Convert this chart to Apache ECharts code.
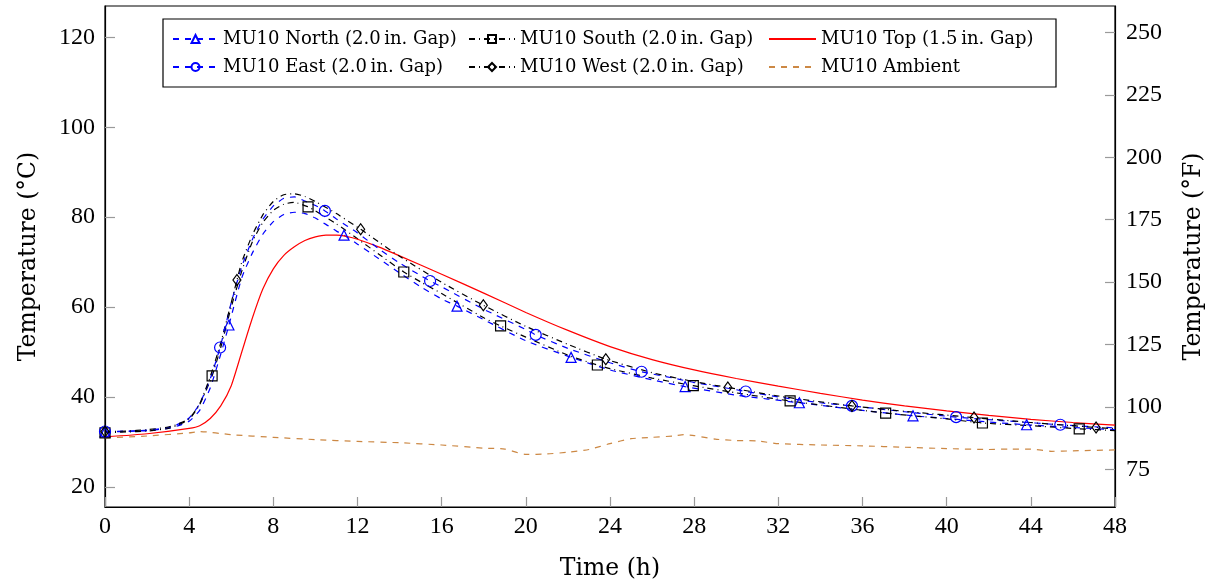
<!DOCTYPE html>
<html>
<head>
<meta charset="utf-8">
<script src="https://cdn.jsdelivr.net/npm/echarts@6/dist/echarts.min.js"></script>
<style>
html,body{margin:0;padding:0;background:#fff;}
#chart{width:1219px;height:586px;}
</style>
</head>
<body>
<div id="chart"></div>
<script>
// ---------- DATA ----------
const northT = [0,1,2,3,3.5,4,4.5,5,5.5,5.89,6.5,7,7.5,8,8.5,9,9.5,10,10.5,11,11.36,12,13,14,15,16,16.73,18,20,22.15,24,26,27.57,30,33,36,38.4,40,42,43.8,46,48];
const northC = [32.2,32.3,32.5,33.0,33.6,34.6,37,42,49.5,56,66.5,72,76.2,79,80.6,81.1,80.8,79.8,78.4,76.9,76,74,70.8,67.6,64.5,61.8,60.2,57.2,52.5,48.8,46,43.8,42.3,40.4,38.7,37.0,35.8,35.2,34.4,33.8,33.2,32.7];
const northMarks = [0,5.89,11.36,16.73,22.15,27.57,33,38.4,43.8];

const southT = [0,1,2,3,3.5,4,4.5,5.09,5.5,6,6.5,7,7.5,8,8.5,9,9.65,10,11,12,13,14.2,15,16,18,18.8,20,22,23.4,24,26,27.96,30,32.56,35,37.1,40,41.7,44,46.3,48];
const southC = [32,32.2,32.4,33,33.8,35,38.3,44.7,51,60,68,74.5,78.8,81.5,82.9,83.3,82.3,81.4,78.5,75.2,71.8,67.8,65.6,63,57.6,55.8,53.3,49.3,47.1,46.3,44.2,42.5,40.9,39.1,37.6,36.4,35.1,34.2,33.6,32.9,32.5];
const southMarks = [0,5.09,9.65,14.2,18.8,23.4,27.96,32.56,37.1,41.7,46.3];

const topT = [0,2,4,4.5,5,5.5,6,6.5,7,7.5,8,8.5,9,9.5,10,10.5,11,11.5,12,13,14,16,18,20,22,24,26,28,30,32,34,36,38,40,42,44,46,48];
const topC = [31.1,31.8,33.0,33.6,35.2,38,42.5,50,57.5,64,68.5,71.5,73.4,74.8,75.6,76,76,75.7,75.1,73.4,71.4,67.3,63.1,58.8,54.8,51.2,48.3,46,44.1,42.4,40.8,39.3,38,36.9,35.9,35,34.3,33.7];

const eastT = [0,1,2,3,3.5,4,4.5,5,5.47,6,6.5,7,7.5,8,8.5,9,9.5,10,10.45,11,12,13,14,15,15.45,16,18,20,20.47,22,24,25.5,27,28,30,30.45,32,34,35.5,38,40.45,43,45.4,48];
const eastC = [32.3,32.4,32.6,33.2,34,35.3,38.5,44,51,61,69,75,79.5,82.5,84.2,84.5,83.6,82.6,81.4,79.6,76.5,73,69.8,67,65.8,64.5,59.5,55,53.8,50.8,47.6,45.6,44.2,43.2,41.6,41.2,40,38.7,38,36.7,35.5,34.6,33.8,33.1];
const eastMarks = [0,5.47,10.45,15.45,20.47,25.5,30.45,35.5,40.45,45.4];

const westT = [0,1,2,3,3.5,4,4.5,5,5.5,6,6.27,6.5,7,7.5,8,8.5,9,9.5,10,11,12.15,13,14,16,17.98,20,22,23.8,26,28,29.6,32,35.5,38,41.3,44,47.1,48];
const westC = [32.3,32.4,32.7,33.3,34,35.2,38.5,44.5,52,61,66,70,76,80.5,83.5,85,85.2,84.6,83.5,80.8,77.3,74.5,71.3,65.5,60.4,55.7,51.7,48.4,45.4,43.4,42.1,40.2,38,36.8,35.4,34.3,33.2,32.9];
const westMarks = [0,6.27,12.15,17.98,23.8,29.6,35.5,41.3,47.1];

const ambT = [0,2,4,4.5,6,8,10,12,14,16,18,19,20,21,22,23,24,25,26,27,27.5,28,29,30,31,32,34,36,38,40,42,43,44,45,46,48];
const ambC = [30.9,31.3,32.0,32.3,31.6,31.0,30.5,30.1,29.8,29.3,28.6,28.4,27.2,27.3,27.7,28.3,29.6,30.7,31,31.3,31.6,31.4,30.6,30.3,30.2,29.6,29.3,29.1,28.8,28.5,28.3,28.4,28.4,27.9,28,28.2];

const seriesNames = [
  'MU10 North (2.0\u2009in. Gap)',
  'MU10 South (2.0\u2009in. Gap)',
  'MU10 Top (1.5\u2009in. Gap)',
  'MU10 East (2.0\u2009in. Gap)',
  'MU10 West (2.0\u2009in. Gap)',
  'MU10 Ambient'
];
const xTicks = [0,4,8,12,16,20,24,28,32,36,40,44,48];
const cTicks = [20,40,60,80,100,120];
const fTicks = [75,100,125,150,175,200,225,250];
const cMin = 15.5, cMax = 127;

// ---------- CHART ----------
const NUMFONT = "'Liberation Serif', 'Times New Roman', serif";
const TXTFONT = "'DejaVu Serif', serif";
function build(ts, vs, marks) {
  return ts.map((t, i) => {
    const item = { value: [t, vs[i]] };
    if (!marks || marks.indexOf(t) < 0) item.symbol = 'none';
    return item;
  });
}
const toF = c => c * 1.8 + 32;

function tickLabel(margin, custom) {
  const o = { margin: margin, fontFamily: NUMFONT, fontSize: 24, color: '#000' };
  if (custom) o.customValues = custom;
  return o;
}
function nameStyle() { return { fontFamily: TXTFONT, fontSize: 23.5, color: '#000' }; }
function tickStyle(custom) {
  const o = { inside: true, length: 10, lineStyle: { color: '#9a9a9a', width: 1.2 } };
  if (custom) o.customValues = custom;
  return o;
}

function lineSeries(name, data, color, dash, symbol, symbolSize) {
  const hasMark = symbol !== 'none';
  return {
    type: 'line', name: name, data: data,
    symbol: hasMark ? symbol : 'circle', symbolSize: symbolSize || 10,
    showSymbol: true, showAllSymbol: true,
    smooth: 0.2,
    lineStyle: { color: color, width: 1.2, type: dash },
    itemStyle: { color: 'rgba(0,0,0,0)', borderColor: hasMark ? color : 'rgba(0,0,0,0)', borderWidth: hasMark ? 1.2 : 0 },
    emphasis: { disabled: true },
    z: 2
  };
}

function legendText() { return { fontFamily: TXTFONT, fontSize: 18, color: '#000', lineHeight: 20 }; }
const option = {
  animation: false,
  backgroundColor: '#fff',
  textStyle: { fontFamily: NUMFONT },
  grid: { left: 105, right: 104, top: 6, bottom: 79, show: true, borderColor: '#000', borderWidth: 1.2, backgroundColor: 'rgba(0,0,0,0)' },
  xAxis: {
    type: 'value', min: 0, max: 48, interval: 4,
    axisLine: { show: true, lineStyle: { color: '#000', width: 1.2 } },
    axisTick: tickStyle(null),
    axisLabel: tickLabel(8, null),
    splitLine: { show: false },
    name: 'Time (h)', nameLocation: 'middle', nameGap: 50,
    nameTextStyle: nameStyle()
  },
  yAxis: [
    {
      type: 'value', min: cMin, max: cMax, position: 'left',
      axisLine: { show: true, lineStyle: { color: '#000', width: 1.2 } },
      axisTick: tickStyle(cTicks),
      axisLabel: tickLabel(10, cTicks),
      splitLine: { show: false },
      name: 'Temperature (°C)', nameLocation: 'middle', nameGap: 64, nameRotate: 90,
      nameTextStyle: nameStyle()
    },
    {
      type: 'value', min: toF(cMin), max: toF(cMax), position: 'right',
      axisLine: { show: true, lineStyle: { color: '#000', width: 1.2 } },
      axisTick: tickStyle(fTicks),
      axisLabel: tickLabel(11, fTicks),
      splitLine: { show: false },
      name: 'Temperature (°F)', nameLocation: 'middle', nameGap: 67, nameRotate: 90,
      nameTextStyle: nameStyle()
    }
  ],
  legend: [
    { data: [seriesNames[0], seriesNames[3]], orient: 'vertical', left: 167, top: 24, itemGap: 8, itemWidth: 45, itemHeight: 10,
      textStyle: legendText() },
    { data: [seriesNames[1], seriesNames[4]], orient: 'vertical', left: 463, top: 24, itemGap: 8, itemWidth: 46, itemHeight: 10,
      textStyle: legendText() },
    { data: [seriesNames[2], seriesNames[5]], orient: 'vertical', left: 763, top: 24, itemGap: 8, itemWidth: 47, itemHeight: 10,
      textStyle: legendText() }
  ],
  graphic: [
    { type: 'rect', shape: { x: 163, y: 19, width: 893, height: 68 },
      style: { fill: '#fff', stroke: '#000', lineWidth: 1.2 }, z: 5, silent: true }
  ],
  series: [
    lineSeries(seriesNames[0], build(northT, northC, northMarks), '#0000ff', [6, 6], 'triangle', 10),
    lineSeries(seriesNames[1], build(southT, southC, southMarks), '#000000', [6, 4, 1, 4], 'rect', 10),
    lineSeries(seriesNames[2], build(topT, topC, null), '#ff0000', 'solid', 'none', 1),
    lineSeries(seriesNames[3], build(eastT, eastC, eastMarks), '#0000ff', [6, 6], 'circle', 11),
    lineSeries(seriesNames[4], build(westT, westC, westMarks), '#000000', [6, 4, 1, 4], 'diamond', [8, 11]),
    lineSeries(seriesNames[5], build(ambT, ambC, null), '#cc8844', [6, 6], 'none', 1)
  ]
};
option.legend.forEach(l => { l.z = 10; });

const chart = echarts.init(document.getElementById('chart'), null, { renderer: 'canvas' });
chart.setOption(option);
</script>
</body>
</html>
